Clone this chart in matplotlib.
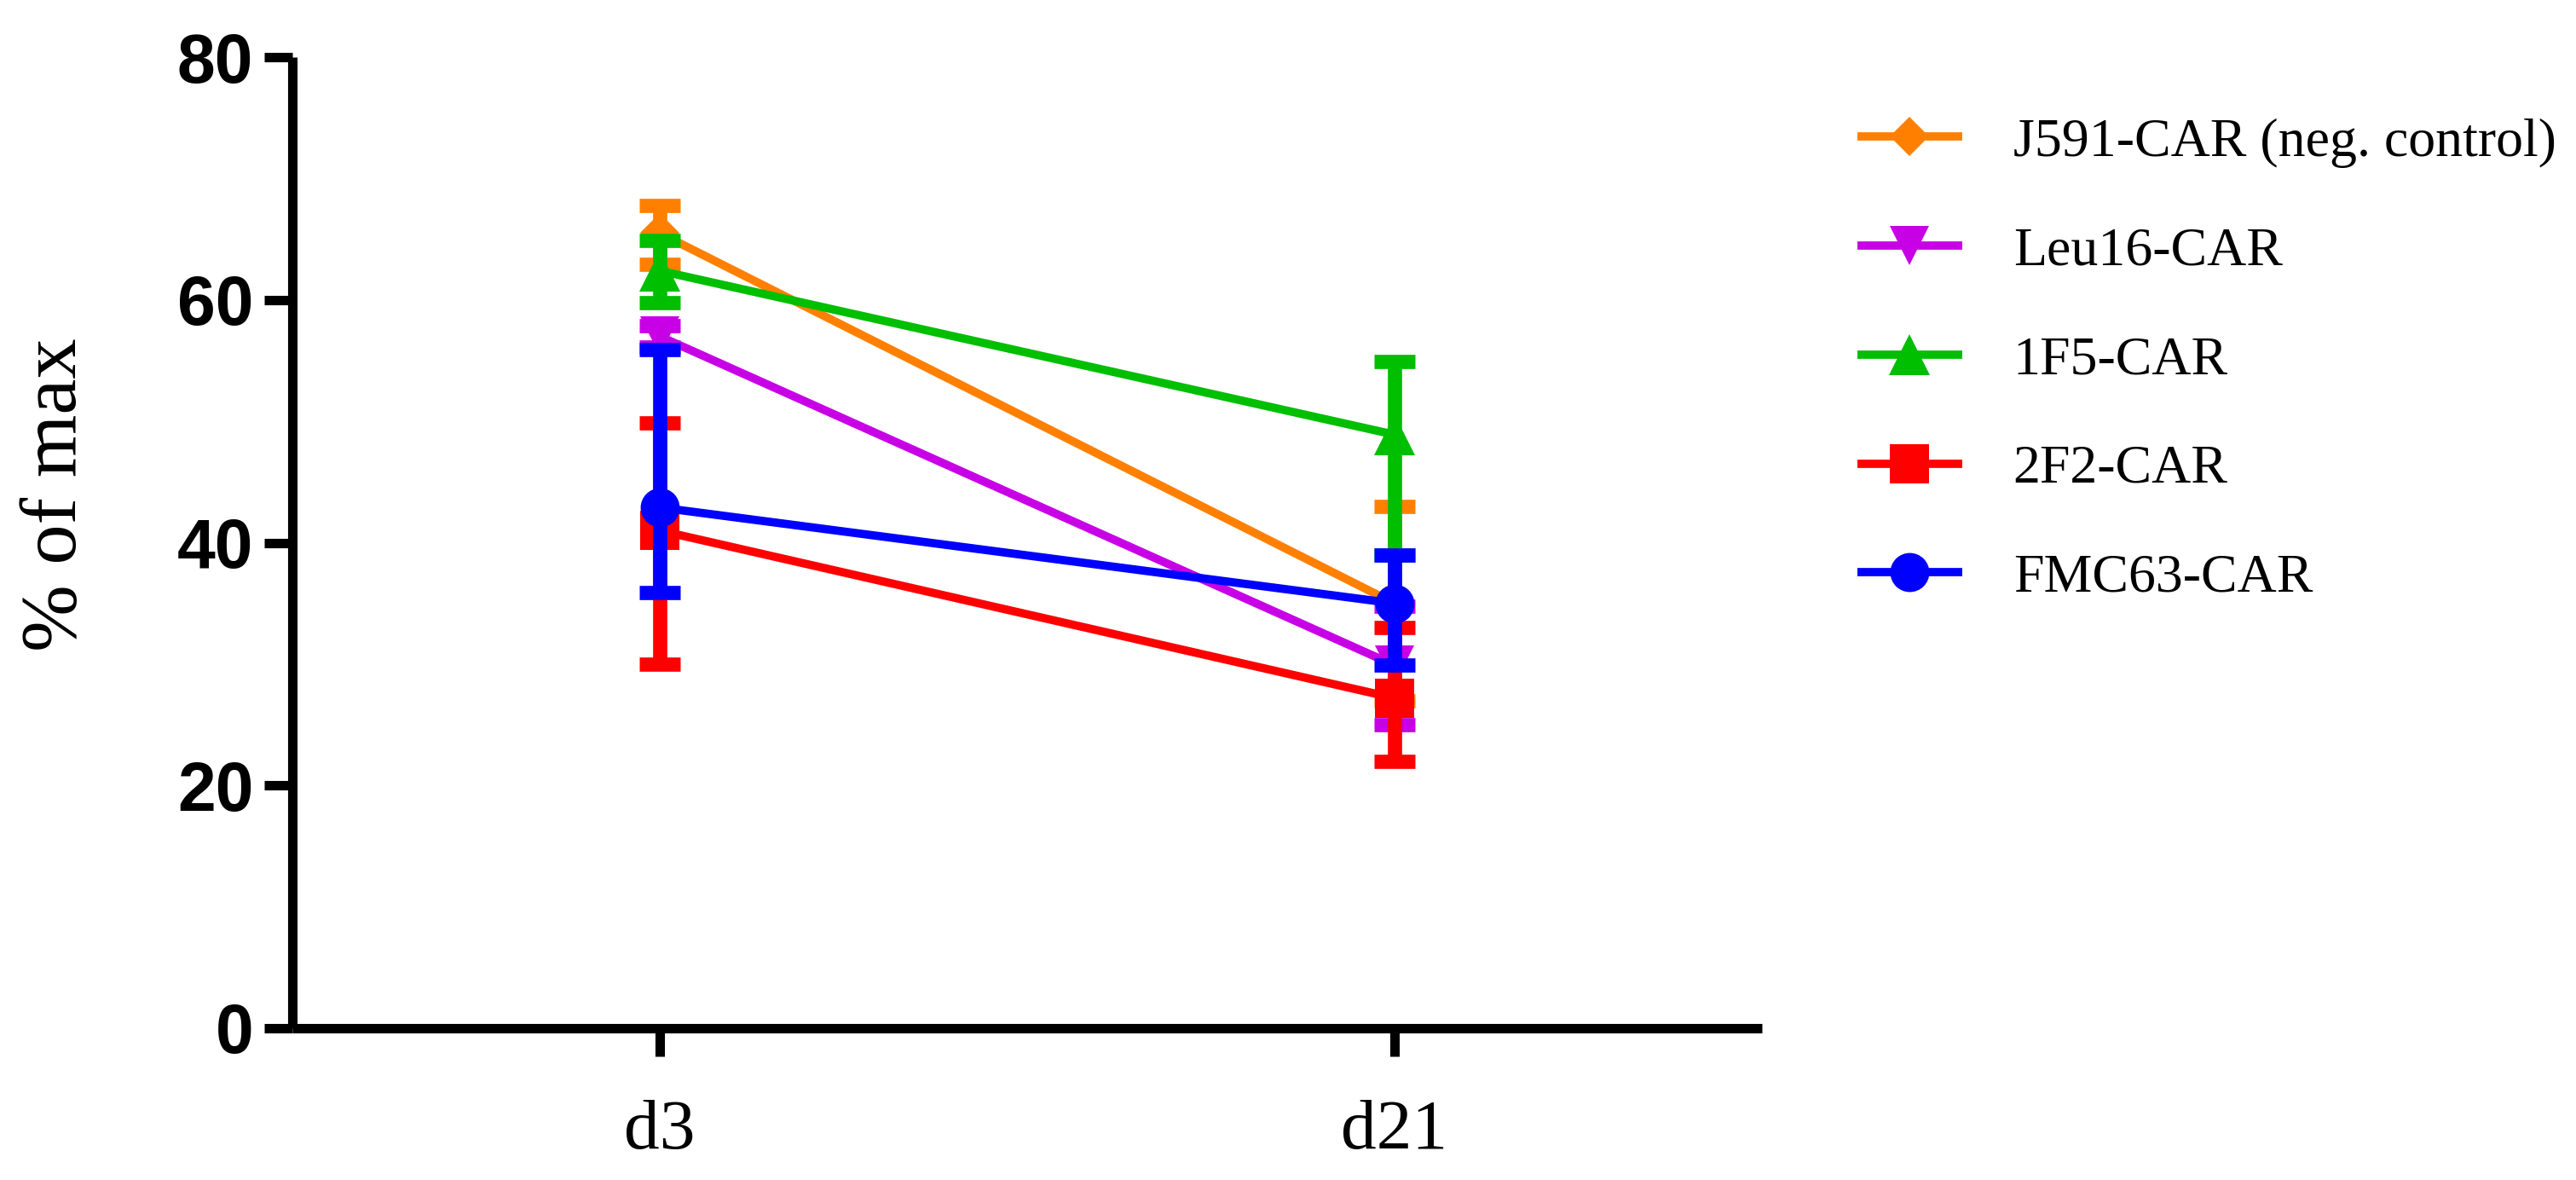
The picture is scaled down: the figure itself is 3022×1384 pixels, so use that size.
import matplotlib
matplotlib.use("Agg")
import matplotlib.pyplot as plt
import numpy as np

# ---- data ----
timepoints = ["d3", "d21"]
series_names = ["J591-CAR (neg. control)", "Leu16-CAR", "1F5-CAR", "2F2-CAR", "FMC63-CAR"]

j591_mean = [65.5, 35.0]
j591_err_lo = [2.6, 8.0]
j591_err_hi = [2.3, 8.0]

leu16_mean = [57.0, 29.9]
leu16_err_lo = [0.9, 4.9]
leu16_err_hi = [0.9, 4.9]

f1f5_mean = [62.4, 48.9]
f1f5_err_lo = [2.6, 9.9]
f1f5_err_hi = [2.5, 6.0]

f2f2_mean = [41.0, 27.2]
f2f2_err_lo = [11.0, 5.2]
f2f2_err_hi = [8.9, 5.8]

fmc63_mean = [42.9, 35.0]
fmc63_err_lo = [7.0, 5.1]
fmc63_err_hi = [13.0, 4.0]

yticks = [0, 20, 40, 60, 80]

means = [j591_mean, leu16_mean, f1f5_mean, f2f2_mean, fmc63_mean]
errs_lo = [j591_err_lo, leu16_err_lo, f1f5_err_lo, f2f2_err_lo, fmc63_err_lo]
errs_hi = [j591_err_hi, leu16_err_hi, f1f5_err_hi, f2f2_err_hi, fmc63_err_hi]

colors = ["#FF8000", "#C800E6", "#00BE00", "#FF0000", "#0000FF"]
markers = ["D", "v", "^", "s", "o"]
msizes = [23, 33, 34, 33, 33]

serif = ["Liberation Serif", "DejaVu Serif"]
sans = ["Liberation Sans", "DejaVu Sans"]

fig = plt.figure(figsize=(30.22, 13.84), dpi=100)
ax = fig.add_axes([343 / 3022, 1 - 1206 / 1384, (2067 - 343) / 3022, (1206 - 67) / 1384])

x = np.arange(len(timepoints))
handles = []
for i in range(len(series_names)):
    z = 3 + i * 0.1
    ax.errorbar(x, means[i], yerr=[errs_lo[i], errs_hi[i]], fmt="none",
                ecolor=colors[i], elinewidth=12, capsize=17, capthick=12, zorder=z)
    ln, = ax.plot(x, means[i], color=colors[i], lw=7, marker=markers[i],
                  markersize=msizes[i], markeredgewidth=0, zorder=z + 0.01,
                  label=series_names[i], solid_capstyle="butt")
    handles.append(ln)

ax.set_xlim(-0.5, 1.5)
ax.set_ylim(0, 80)
ax.set_xticks(x)
ax.set_xticklabels(timepoints, fontfamily=serif, fontsize=60)
ax.set_yticks(yticks)
ax.set_yticklabels([str(v) for v in yticks], fontfamily=sans, fontsize=58, fontweight="bold")

for s in ["top", "right"]:
    ax.spines[s].set_visible(False)
for s in ["left", "bottom"]:
    ax.spines[s].set_linewidth(8)
    ax.spines[s].set_capstyle("butt")

ax.tick_params(axis="both", direction="out", length=24, width=8)
ax.tick_params(axis="x", pad=36)
ax.tick_params(axis="y", pad=9)

ax.set_ylabel("% of max", fontfamily=serif, fontsize=68)
ax.yaxis.set_label_coords((109 - 343) / 1724, (1206 - 580) / (1206 - 67))

leg = fig.legend(handles=handles, loc="upper left",
                 bbox_to_anchor=(2179 / 3022, 1 - 138 / 1384),
                 frameon=False, prop={"family": serif, "size": 46},
                 handlelength=1.92, handletextpad=0.94, labelspacing=1.08,
                 borderpad=0, borderaxespad=0)

fig.savefig("out.png", dpi=100, facecolor="white")
